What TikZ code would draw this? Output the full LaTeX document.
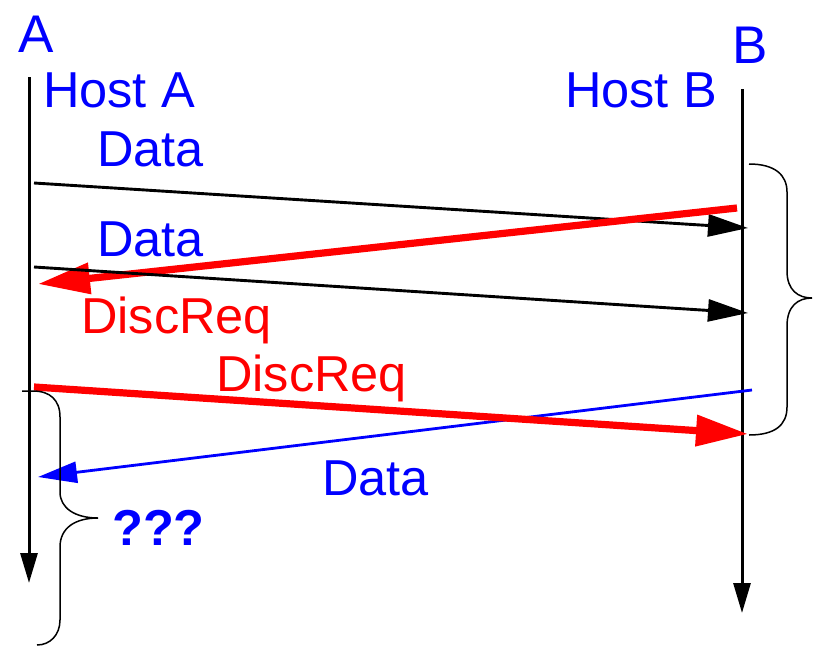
\documentclass[tikz,border=0pt]{standalone}
\usepackage{fontspec}
\setmainfont{Liberation Sans}
\usetikzlibrary{arrows.meta,positioning}

\begin{document}
\begin{tikzpicture}[x=1pt, y=-1pt,
  lifeline/.style={line width=3pt, -{Triangle[length=30pt,width=17pt]}},
  msg/.style={line width=2.9pt, -{Triangle[length=40pt,width=22pt]}},
  discmsg/.style={red, line width=7.2pt, -{Triangle[length=52pt,width=30pt]}},
  datamsg/.style={blue, line width=2.8pt, -{Triangle[length=39pt,width=21pt]}},
  lbl/.style={inner sep=0pt, anchor=base west, text=blue,
              font=\fontsize{50.5}{60}\selectfont},
  brace/.style={line width=1.5pt}
]
\useasboundingbox (0,0) rectangle (813,645);

% Host names
\node[lbl, font=\fontsize{53}{60}\selectfont] (labA)  at (18,52)  {A};
\node[lbl, font=\fontsize{53}{60}\selectfont] (labB)  at (732,63) {B};
\node[lbl] (hostA) at (43,107)  {Host A};
\node[lbl] (hostB) at (565,107) {Host B};

% Lifelines
\coordinate (topA) at (29,77);
\coordinate (endA) at (29,583);
\coordinate (topB) at (742,89);
\coordinate (endB) at (742,613);
\draw[lifeline] (topA) -- (endA);
\draw[lifeline] (topB) -- (endB);

% Message end points
\coordinate (d1s) at (34,183);  \coordinate (d1e) at (748,228);
\coordinate (r1s) at (737,208); \coordinate (r1e) at (38,284);
\coordinate (d2s) at (34,267);  \coordinate (d2e) at (748,313);
\coordinate (r2s) at (34,387);  \coordinate (r2e) at (748,434);
\coordinate (b1s) at (752,390); \coordinate (b1e) at (38,477);

% Messages
\draw[msg] (d1s) -- (d1e);
\draw[discmsg] (r1s) -- (r1e);
\draw[msg] (d2s) -- (d2e);
\draw[datamsg] (b1s) -- (b1e);
\draw[discmsg] (r2s) -- (r2e);

% Message labels
\node[lbl] (data1) at (97,166) {Data};
\node[lbl] (data2) at (97,256) {Data};
\node[lbl, text=red] (disc1) at (81,333)  {DiscReq};
\node[lbl, text=red] (disc2) at (216,391) {DiscReq};
\node[lbl] (data3) at (322,495) {Data};

% Braces
\draw[brace] (749,164) .. controls (775,164) and (787,175) .. (787,192)
  -- (787,271) .. controls (787,290) and (798,298) .. (812,298)
  .. controls (798,298) and (787,306) .. (787,326)
  -- (787,407) .. controls (787,425) and (775,435) .. (749,435);
\draw[brace] (22,391) -- (33,391) .. controls (50,391) and (60,400) .. (60,417)
  -- (60,492) .. controls (60,508) and (75,518) .. (98,518)
  .. controls (75,518) and (60,528) .. (60,547)
  -- (60,620) .. controls (60,635) and (50,645) .. (37,645);
\node[lbl, font=\bfseries\fontsize{50.5}{60}\selectfont] (qqq) at (112,545) {???};
\end{tikzpicture}
\end{document}
